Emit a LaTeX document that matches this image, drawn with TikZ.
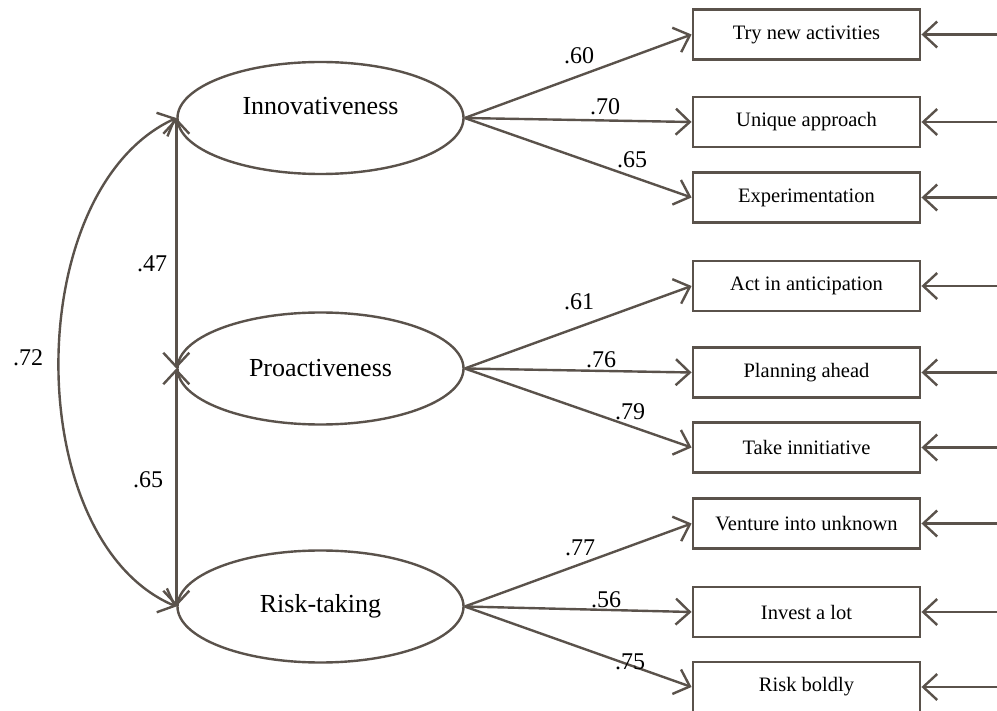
\documentclass[tikz,border=0pt]{standalone}
\usepackage{fontspec}
\setmainfont{Liberation Serif}
\usetikzlibrary{arrows.meta,shapes.geometric}
\definecolor{ln}{RGB}{90,82,75}
\begin{document}
\begin{tikzpicture}[x=1pt,y=-1pt,
  latent/.style={draw=ln, line width=2.4pt, ellipse, minimum width=286pt, minimum height=112pt, inner sep=0pt},
  obs/.style={draw=ln, line width=2.9pt, minimum width=227pt, minimum height=50pt, inner sep=0pt, font=\fontsize{20.5}{24}\selectfont},
  ltext/.style={font=\fontsize{26}{30}\selectfont},
  coef/.style={font=\fontsize{24}{28}\selectfont, inner sep=0pt},
  barb/.tip={Straight Barb[length=14pt,width=26pt,line width=2.4pt]},
  pth/.style={draw=ln, line width=2.4pt, -barb},
  cov/.style={draw=ln, line width=2.4pt, barb-barb}
]
\useasboundingbox (0,0) rectangle (997,711);

% latent variables
\node[latent, label={[ltext, yshift=12pt]center:Innovativeness}] (inn) at (320.5,118) {};
\node[latent, label={[ltext]center:Proactiveness}] (pro) at (320.5,368.5) {};
\node[latent, label={[ltext]center:Risk-taking}] (risk) at (320.5,606.5) {};

% indicators
\node[obs] (b1) at (806.5,34.5) {Try new activities};
\node[obs] (b2) at (806.5,122) {Unique approach};
\node[obs] (b3) at (806.5,197.5) {Experimentation};
\node[obs] (b4) at (806.5,286) {Act in anticipation};
\node[obs] (b5) at (806.5,372.5) {Planning ahead};
\node[obs] (b6) at (806.5,447.5) {Take innitiative};
\node[obs] (b7) at (806.5,523.5) {Venture into unknown};
\node[obs] (b8) at (806.5,612) {Invest a lot};
\node[obs] (b9) at (806.5,687) {Risk boldly};

% error term inputs
\foreach \i/\yy in {1/34.5,2/122,3/197.5,4/286,5/372.5,6/447.5,7/523.5,8/612,9/687}{
  \coordinate (e\i) at (1000,\yy);
  \draw[pth] (e\i) -- (b\i.east);
}

% loadings
\draw[pth] (inn.east) -- (b1.west);
\draw[pth] (inn.east) -- (b2.west);
\draw[pth] (inn.east) -- (b3.west);
\draw[pth] (pro.east) -- (b4.west);
\draw[pth] (pro.east) -- (b5.west);
\draw[pth] (pro.east) -- (b6.west);
\draw[pth] (risk.east) -- (b7.west);
\draw[pth] (risk.east) -- (b8.west);
\draw[pth] (risk.east) -- (b9.west);

\node[coef] (l1) at (579,56) {.60};
\node[coef] (l2) at (605,107) {.70};
\node[coef] (l3) at (632,160) {.65};
\node[coef] (l4) at (579,302) {.61};
\node[coef] (l5) at (601,360) {.76};
\node[coef] (l6) at (630,412) {.79};
\node[coef] (l7) at (580,548) {.77};
\node[coef] (l8) at (606,600) {.56};
\node[coef] (l9) at (630,662) {.75};

% covariances
\draw[cov] (inn.west) -- (pro.west);
\draw[cov] (pro.west) -- (risk.west);
\draw[cov] (inn.west) .. controls (20,190) and (20,540) .. (risk.west);

\node[coef] (c1) at (152,264) {.47};
\node[coef] (c2) at (148,480) {.65};
\node[coef] (c3) at (28,358) {.72};
\end{tikzpicture}
\end{document}
